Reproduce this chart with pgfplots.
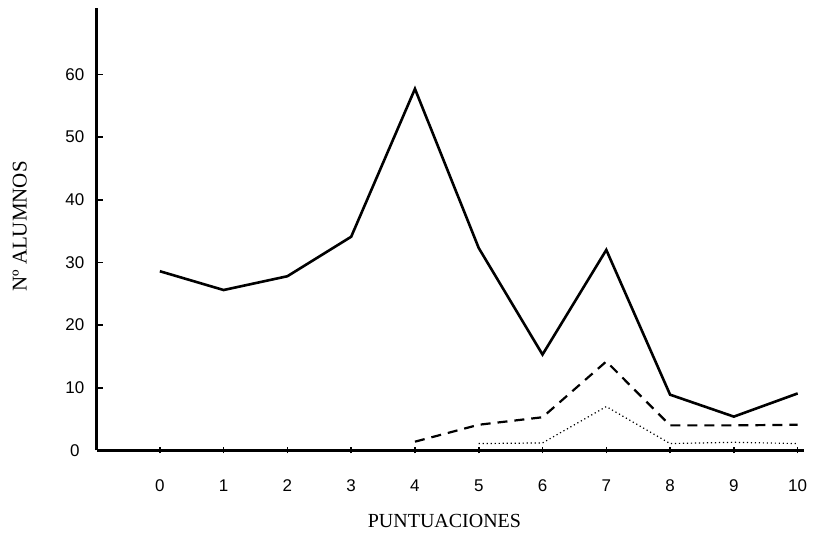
\documentclass[border=0pt]{standalone}
\usepackage{fontspec}
\setmainfont{Liberation Serif}
\newfontfamily\sansf{Liberation Sans}
\usepackage{pgfplots}
\pgfplotsset{compat=1.18}
\begin{document}
\begin{tikzpicture}
\useasboundingbox (-48.5pt,-42.5pt) rectangle (362.5pt,225.5pt);
\begin{axis}[
  scale only axis, width=354pt, height=221.5pt,
  xmin=-0.987, xmax=10.10, ymin=0, ymax=70.6,
  axis x line=bottom, axis y line=left,
  axis line style={-, line width=1.5pt},
  xtick={0,...,10}, ytick={0,10,...,60},
  tick style={black, line width=0.8pt},
  major tick length=3pt,
  xtick align=center, ytick align=inside,
  /pgf/number format/assume math mode=true,
  ticklabel style={font=\sansf\fontsize{8.5}{10}\selectfont},
  xticklabel style={anchor=center, yshift=-16pt},
  yticklabel style={anchor=center, xshift=-11pt},
  xlabel={PUNTUACIONES},
  ylabel={Nº ALUMNOS},
  xlabel style={font=\fontsize{10}{12}\selectfont, at={(axis description cs:0.4915,-0.160)}, anchor=center},
  ylabel style={font=\fontsize{10.5}{12}\selectfont, at={(axis description cs:-0.109,0.506)}, anchor=center},
  clip=false,
]
\addplot[black, line width=1.3pt] coordinates {
 (0,28.6) (1,25.6) (2,27.8) (3,34.1) (4,57.7) (5,32.3) (6,15.3) (7,32) (8,8.9) (9,5.4) (10,9.1)
};
\addplot[black, line width=1.1pt, dash pattern=on 5pt off 3.5pt] coordinates {
 (4,1.4) (5,4.1) (6,5.3) (7,14.2) (8,4) (9,4) (10,4.1)
};
\addplot[black, line width=0.6pt, dash pattern=on 0.6pt off 1.4pt] coordinates {
 (5,1.1) (6,1.2) (7,7) (8,1.1) (9,1.3) (10,1.1)
};
\end{axis}
\end{tikzpicture}
\end{document}
